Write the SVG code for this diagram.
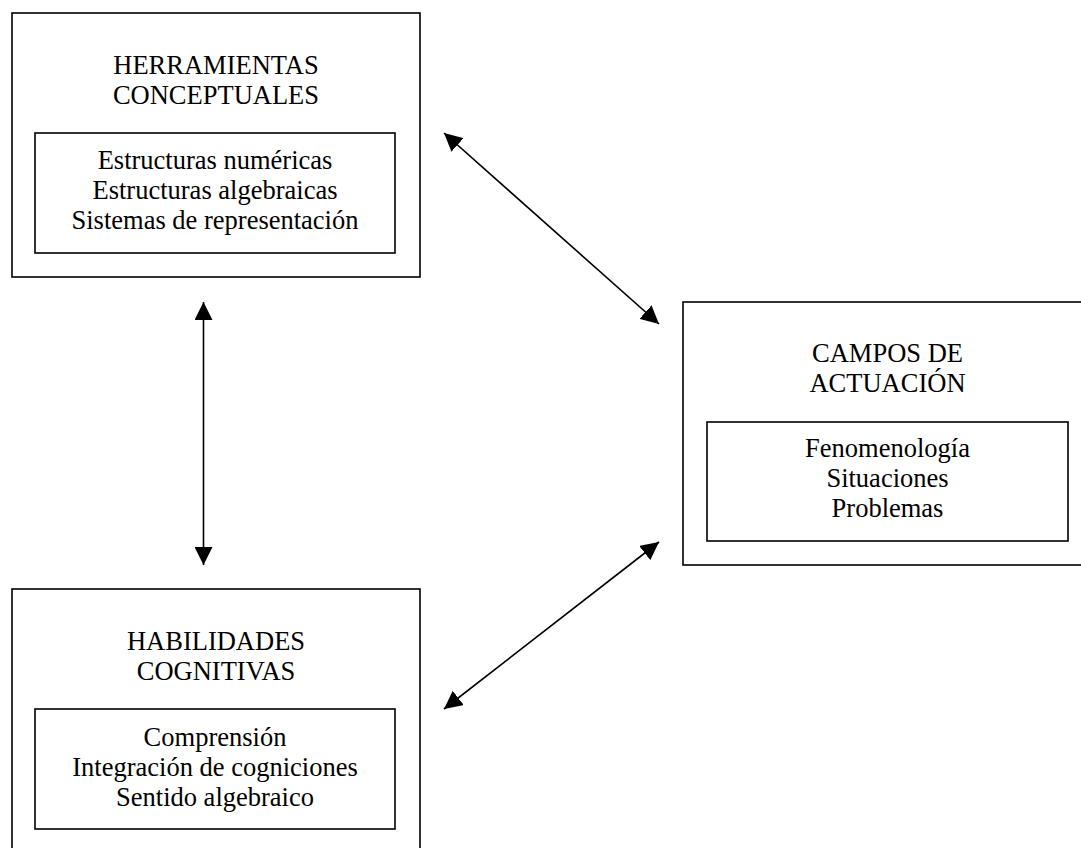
<svg xmlns="http://www.w3.org/2000/svg" width="1081" height="848" viewBox="0 0 1081 848">
<defs>
<style>
.box{fill:#fff;stroke:#000;stroke-width:1.6}
.t{font-family:"Liberation Serif","Times New Roman",serif;font-size:26.5px;fill:#000;text-anchor:middle}
.c{stroke:#000;stroke-width:1.6;fill:none;marker-start:url(#ah);marker-end:url(#ah)}
</style>
<marker id="ah" markerUnits="userSpaceOnUse" markerWidth="18" markerHeight="18" viewBox="0 0 16 16" refX="16" refY="8" orient="auto-start-reverse">
<path d="M0,0 L16,8 L0,16 Z" fill="#000"/>
</marker>
</defs>
<rect width="1081" height="848" fill="#fff"/>
<g id="herramientas">
<rect class="box" x="12" y="13" width="408" height="264"/>
<text class="t" x="216" y="74">HERRAMIENTAS</text>
<text class="t" x="216" y="104">CONCEPTUALES</text>
<rect class="box" x="35" y="133" width="360" height="120"/>
<text class="t" x="215" y="169">Estructuras numéricas</text>
<text class="t" x="215" y="199">Estructuras algebraicas</text>
<text class="t" x="215" y="229">Sistemas de representación</text>
</g>
<g id="campos">
<rect class="box" x="683" y="302" width="409" height="263"/>
<text class="t" x="887.5" y="362">CAMPOS DE</text>
<text class="t" x="887.5" y="392">ACTUACIÓN</text>
<rect class="box" x="707" y="422" width="361" height="119"/>
<text class="t" x="887.5" y="457">Fenomenología</text>
<text class="t" x="887.5" y="487">Situaciones</text>
<text class="t" x="887.5" y="517">Problemas</text>
</g>
<g id="habilidades">
<rect class="box" x="12" y="589" width="408" height="270"/>
<text class="t" x="216" y="650">HABILIDADES</text>
<text class="t" x="216" y="680">COGNITIVAS</text>
<rect class="box" x="35" y="709" width="360" height="120"/>
<text class="t" x="215" y="746">Comprensión</text>
<text class="t" x="215" y="776">Integración de cogniciones</text>
<text class="t" x="215" y="806">Sentido algebraico</text>
</g>
<g id="connectors">
<line class="c" x1="203.5" y1="302" x2="203.5" y2="565"/>
<line class="c" x1="444" y1="133" x2="659" y2="324"/>
<line class="c" x1="444" y1="709" x2="659" y2="542"/>
</g>
</svg>
